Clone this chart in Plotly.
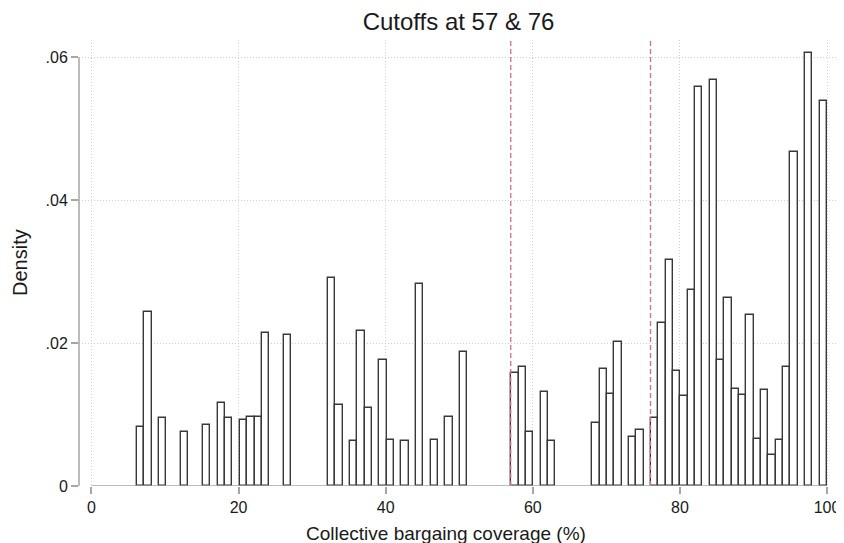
import plotly.graph_objects as go

# Histogram bins (bin index = integer part of lower edge), density values
bin_start = 6.2
bin_width = (100 - 6.2) / 94
bin_index = [6, 7, 9, 12, 15, 17, 18, 20, 21, 22, 23, 26,
             32, 33, 35, 36, 37, 39, 40, 42, 44, 46, 48, 50,
             57, 58, 59, 61, 62, 68, 69, 70, 71, 73, 74,
             76, 77, 78, 79, 80, 81, 82, 84, 85, 86, 87, 88, 89,
             90, 91, 92, 93, 94, 95, 97, 99]
density = [0.0083, 0.0244, 0.0095, 0.0076, 0.0086, 0.0116, 0.0095, 0.0093, 0.0096, 0.0096, 0.0214, 0.0212,
           0.0291, 0.0114, 0.0063, 0.0217, 0.0109, 0.0176, 0.0064, 0.0063, 0.0283, 0.0064, 0.0097, 0.0187,
           0.0158, 0.0166, 0.0076, 0.0132, 0.0063, 0.0088, 0.0164, 0.0129, 0.0201, 0.0069, 0.0078,
           0.0095, 0.0228, 0.0316, 0.0161, 0.0126, 0.0275, 0.0558, 0.0568, 0.0176, 0.0263, 0.0136, 0.0127, 0.0239,
           0.0066, 0.0134, 0.0043, 0.0064, 0.0166, 0.0468, 0.0606, 0.0539]

cutoffs = [57, 76]
x_ticks = [0, 20, 40, 60, 80, 100]
y_ticks = [0, 0.02, 0.04, 0.06]
y_ticklabels = ["0", ".02", ".04", ".06"]

title_text = "Cutoffs at 57 & 76"
x_title = "Collective bargaing coverage (%)"
y_title = "Density"

lower_edges = [bin_start + (k - 6) * bin_width for k in bin_index]

FONT = "Liberation Sans, Arial, sans-serif"
AXIS_COLOR = "#a6a6a6"
GRID_COLOR = "#cfcfcf"

# page body has an 8px margin: figure is sized so it fits the 844x543 window
W, H = 836, 543 - 8
L, R, T, B = 71, 4, 32, 57
PW = W - L - R

fig = go.Figure()
fig.add_trace(go.Bar(
    x=lower_edges, y=density, width=bin_width, offset=0,
    marker=dict(color="white", line=dict(color="#383838", width=1.4)),
    hoverinfo="x+y", showlegend=False,
))

shapes = []
for c in cutoffs:
    shapes.append(dict(type="line", xref="x", yref="paper", x0=c, x1=c, y0=0, y1=1,
                       line=dict(color="#d6688f", width=1.3, dash="5px,3px"), layer="above"))
# axis lines (Stata style: only spanning the tick range)
shapes.append(dict(type="line", xref="paper", yref="y", x0=0, x1=0, y0=0, y1=0.06,
                   line=dict(color=AXIS_COLOR, width=1.5), layer="above"))
shapes.append(dict(type="line", xref="x", yref="y", x0=0, x1=100, y0=0, y1=0,
                   line=dict(color=AXIS_COLOR, width=1.5), layer="above"))

fig.update_layout(
    width=W, height=H,
    margin=dict(l=L, r=R, t=T, b=B),
    paper_bgcolor="white", plot_bgcolor="white",
    font=dict(family=FONT, color="#1a1a1a"),
    bargap=0,
    shapes=shapes,
    title=dict(text=title_text, x=0.5, xref="paper", xanchor="center",
               y=1 - 14 / H, yref="container", yanchor="middle",
               font=dict(size=24, family=FONT, color="#1a1a1a")),
    xaxis=dict(range=[-1.695, 101.49], tickvals=x_ticks, ticks="outside", ticklen=7,
               tickcolor=AXIS_COLOR, tickwidth=1.5, showline=False, zeroline=False,
               showgrid=True, gridcolor=GRID_COLOR, griddash="1px,2px", gridwidth=1,
               ticklabeloverflow="allow",
               tickfont=dict(size=16, family=FONT, color="#1a1a1a")),
    yaxis=dict(range=[0, 0.06242], tickvals=y_ticks, ticktext=y_ticklabels, ticks="outside",
               ticklen=7, tickcolor=AXIS_COLOR, tickwidth=1.5, showline=False, zeroline=False,
               showgrid=True, gridcolor=GRID_COLOR, griddash="1px,2px", gridwidth=1,
               ticklabeloverflow="allow",
               tickfont=dict(size=16, family=FONT, color="#1a1a1a")),
    annotations=[
        dict(text=x_title, xref="paper", yref="paper", x=(439 - L) / PW, y=0,
             xanchor="center", yanchor="middle", yshift=-47, showarrow=False,
             font=dict(size=19, family=FONT, color="#1a1a1a")),
        dict(text=y_title, xref="paper", yref="paper", x=0, y=0.5, xshift=12 - L,
             xanchor="center", yanchor="middle", textangle=-90, showarrow=False,
             font=dict(size=20, family=FONT, color="#1a1a1a")),
    ],
)

fig.write_html("out.html", post_script="document.body.style.overflow='hidden';")
